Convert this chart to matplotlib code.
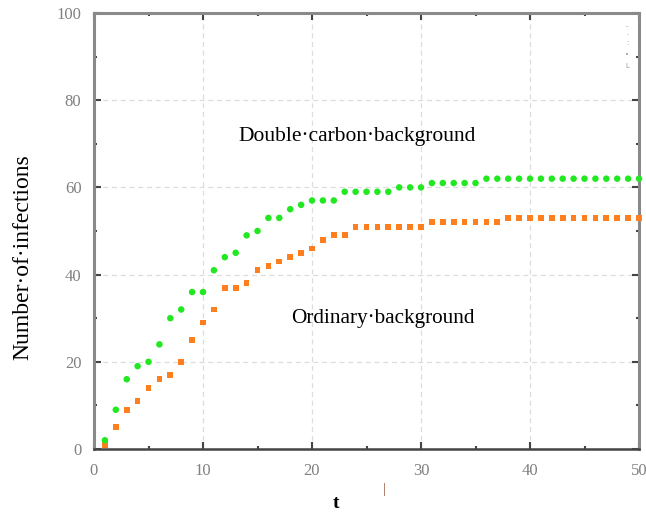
import matplotlib
matplotlib.use("Agg")
import matplotlib.pyplot as plt
from matplotlib.ticker import MultipleLocator

t = list(range(1, 51))
double_carbon = [2, 9, 16, 19, 20, 24, 30, 32, 36, 36,
                 41, 44, 45, 49, 50, 53, 53, 55, 56, 57,
                 57, 57, 59, 59, 59, 59, 59, 60, 60, 60,
                 61, 61, 61, 61, 61, 62, 62, 62, 62, 62,
                 62, 62, 62, 62, 62, 62, 62, 62, 62, 62]
ordinary = [1, 5, 9, 11, 14, 16, 17, 20, 25, 29,
            32, 37, 37, 38, 41, 42, 43, 44, 45, 46,
            48, 49, 49, 51, 51, 51, 51, 51, 51, 51,
            52, 52, 52, 52, 52, 52, 52, 53, 53, 53,
            53, 53, 53, 53, 53, 53, 53, 53, 53, 53]
x_ticks = [0, 10, 20, 30, 40, 50]
y_ticks = [0, 20, 40, 60, 80, 100]

serif = ["Liberation Serif", "DejaVu Serif"]

fig = plt.figure(figsize=(6.46, 5.13), dpi=100)
ax = fig.add_axes([94/646, 1 - 449/513, (639-94)/646, (449-13)/513])

ax.scatter(t, ordinary, s=17, marker="s", color="#ff7f1e", edgecolors="none", zorder=3, clip_on=False)
ax.scatter(t, double_carbon, s=22, marker="o", color="#22e822", edgecolors="none", zorder=3, clip_on=False)

ax.set_xlim(0, 50)
ax.set_ylim(0, 100)
ax.set_xticks(x_ticks)
ax.set_yticks(y_ticks)
ax.xaxis.set_minor_locator(MultipleLocator(5))
ax.yaxis.set_minor_locator(MultipleLocator(10))
ax.tick_params(which="both", direction="in", top=True, right=True, colors="#444444")
ax.tick_params(which="major", length=5, width=1.5, labelsize=12, labelcolor="#808080")
ax.tick_params(axis="x", which="major", pad=10)
ax.tick_params(axis="y", which="major", pad=9)
ax.tick_params(which="minor", length=2, width=1.5)
for lab in ax.get_xticklabels() + ax.get_yticklabels():
    lab.set_family(serif)

ax.grid(True, which="major", linestyle=(0, (4, 3)), color="#dddddd", linewidth=0.9)
ax.set_axisbelow(True)

for side in ["left", "top", "right"]:
    ax.spines[side].set_color("#8a8a8a")
    ax.spines[side].set_linewidth(2.2)
ax.spines["bottom"].set_color("#444444")
ax.spines["bottom"].set_linewidth(1.8)

ax.set_ylabel("Number·of·infections", family=serif, fontsize=17)
ax.yaxis.set_label_coords(-(94 - 33) / 545, (449 - 257) / 436)
ax.text(24.1, 71.6, "Double·carbon·background", family=serif, fontsize=15.5, ha="center", va="center")
ax.text(26.5, 30.0, "Ordinary·background", family=serif, fontsize=15.3, ha="center", va="center")

fig.text(336/646, 1 - 503/513, "t", family=serif, fontsize=14, fontweight="bold", ha="center", va="center")
fig.text(384/646, 1 - 490/513, "|", family=serif, fontsize=11, color="#9a5a3a", ha="center", va="center")

# small marks at top right
for yy, ch in [(26, "-"), (35, "·"), (43, ":"), (55, "•"), (66, "L")]:
    fig.text(627/646, 1 - yy/513, ch, fontsize=5, color="#999999", ha="center", va="center")

fig.savefig("out.png", dpi=100)
